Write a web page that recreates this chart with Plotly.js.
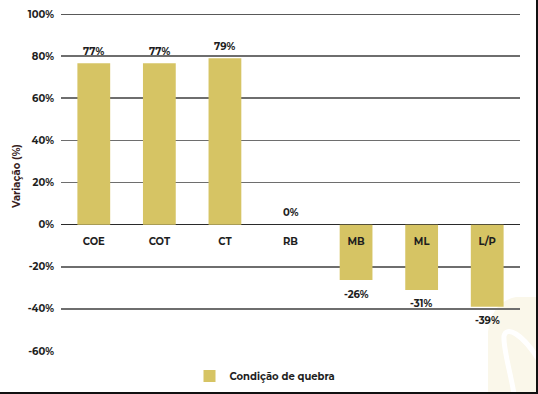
<!DOCTYPE html>
<html>
<head>
<meta charset="utf-8">
<script src="https://cdn.plot.ly/plotly-3.0.1.min.js"></script>
<style>
  html, body { margin: 0; padding: 0; background: #fff; }
  #frame { position: absolute; left: 0; top: 0; width: 536px; height: 392px; border-right: 2px solid #111; border-bottom: 2px solid #111; }
  #chart { position: absolute; left: 0; top: 0; width: 538px; height: 394px; }
</style>
</head>
<body>
<div id="chart"></div>
<div id="frame"></div>
<script>
// Data
const categories = ["COE", "COT", "CT", "RB", "MB", "ML", "L/P"];
const values = [76.6, 76.6, 79.0, 0, -26.3, -31.0, -39.0];
const valueLabels = ["77%", "77%", "79%", "0%", "-26%", "-31%", "-39%"];
const seriesName = "Condição de quebra";
const yTitle = "Variação (%)";
const yTickVals = [-60, -40, -20, 0, 20, 40, 60, 80, 100];
const yTickText = ["-60%", "-40%", "-20%", "0%", "20%", "40%", "60%", "80%", "100%"];

const W = 538, H = 394;
const M = { l: 61, r: 18, t: 14, b: 43 };
const yMin = -60, yMax = 100;
const pw = W - M.l - M.r, ph = H - M.t - M.b;
function px(x) { return (x - M.l) / pw; }
function py(y) { return (H - M.b - y) / ph; }

const fontFam = "Montserrat, 'DejaVu Sans', sans-serif";
const textCol = "#1e1e1e";

const trace = {
  type: "bar",
  x: categories,
  y: values,
  name: seriesName,
  marker: { color: "#D6C464" },
  showlegend: true,
  hoverinfo: "skip"
};

const annotations = categories.map((c, i) => ({
  x: c, y: values[i], xref: "x", yref: "y",
  text: valueLabels[i], showarrow: false,
  yshift: values[i] < 0 ? -14 : 12,
  font: { family: fontFam, size: 10, color: textCol, weight: "bold" }
}));
annotations.push({
  xref: "paper", yref: "paper", x: px(16), y: py(177),
  text: yTitle, textangle: -90, showarrow: false,
  xanchor: "center", yanchor: "middle",
  font: { family: fontFam, size: 10, color: "#3a1f1f", weight: "bold" }
});

const leaf = "M " + px(488) + "," + py(394) +
  " L " + px(488) + "," + py(332) +
  " C " + px(490) + "," + py(312) + " " + px(500) + "," + py(300) + " " + px(516) + "," + py(297) +
  " L " + px(540) + "," + py(297) + " L " + px(540) + "," + py(394) + " Z";
const leafInner = "M " + px(514) + "," + py(394) +
  " C " + px(510) + "," + py(370) + " " + px(503) + "," + py(348) + " " + px(504) + "," + py(336) +
  " C " + px(506) + "," + py(326) + " " + px(522) + "," + py(332) + " " + px(540) + "," + py(362);

const layout = {
  width: W, height: H,
  margin: M,
  paper_bgcolor: "rgba(0,0,0,0)",
  plot_bgcolor: "rgba(0,0,0,0)",
  bargap: 0.5,
  font: { family: fontFam, size: 10, color: textCol },
  xaxis: {
    type: "category",
    anchor: "free",
    position: (0 - yMin) / (yMax - yMin),
    showgrid: false,
    showline: false,
    ticks: "",
    ticklabelstandoff: 9,
    automargin: false,
    tickfont: { family: fontFam, size: 10, color: textCol, weight: "bold" },
    fixedrange: true
  },
  yaxis: {
    range: [yMin, yMax],
    tickvals: yTickVals,
    ticktext: yTickText,
    tickfont: { family: fontFam, size: 10, color: textCol, weight: "bold" },
    showgrid: true,
    gridcolor: "#6e6e6e",
    gridwidth: 1.6,
    zeroline: true,
    zerolinecolor: "#2a2a2a",
    zerolinewidth: 1.6,
    showline: false,
    ticks: "",
    ticklabelstandoff: 6,
    automargin: false,
    fixedrange: true
  },
  legend: {
    orientation: "h",
    xref: "container", yref: "container",
    x: 265 / W, xanchor: "center",
    y: (H - 376) / H, yanchor: "middle",
    itemwidth: 30,
    font: { family: fontFam, size: 10, color: textCol, weight: "bold" },
    bgcolor: "rgba(0,0,0,0)"
  },
  annotations: annotations,
  shapes: [
    { type: "path", xref: "paper", yref: "paper", path: leaf, fillcolor: "#FAF7EA", line: { width: 0 }, layer: "below" },
    { type: "path", xref: "paper", yref: "paper", path: leafInner, line: { color: "#ffffff", width: 5 }, layer: "below" },
    { type: "line", xref: "paper", yref: "y", x0: 0, x1: 1, y0: 100, y1: 100, line: { color: "#222", width: 1.6 }, layer: "below" }
  ]
};

Plotly.newPlot("chart", [trace], layout, { displayModeBar: false, staticPlot: true });
</script>
</body>
</html>
